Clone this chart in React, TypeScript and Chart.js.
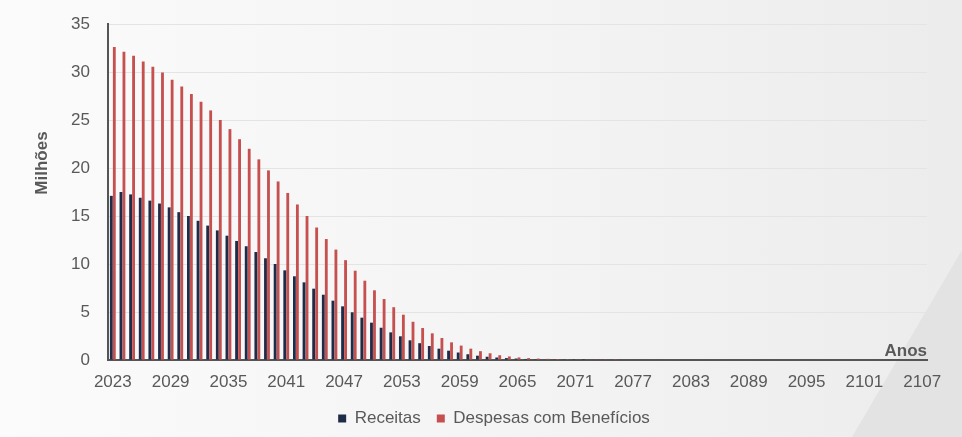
import React, { useEffect, useRef } from "react";
import { Chart, registerables } from "chart.js";

Chart.register(...registerables);

const years: string[] = [
  "2023", "2024", "2025", "2026", "2027", "2028", "2029", "2030", "2031", "2032",
  "2033", "2034", "2035", "2036", "2037", "2038", "2039", "2040", "2041", "2042",
  "2043", "2044", "2045", "2046", "2047", "2048", "2049", "2050", "2051", "2052",
  "2053", "2054", "2055", "2056", "2057", "2058", "2059", "2060", "2061", "2062",
  "2063", "2064", "2065", "2066", "2067", "2068", "2069", "2070", "2071", "2072",
  "2073", "2074", "2075", "2076", "2077", "2078", "2079", "2080", "2081", "2082",
  "2083", "2084", "2085", "2086", "2087", "2088", "2089", "2090", "2091", "2092",
  "2093", "2094", "2095", "2096", "2097", "2098", "2099", "2100", "2101", "2102",
  "2103", "2104", "2105", "2106", "2107",
];

const receitas: number[] = [
  17.1, 17.5, 17.25, 16.9, 16.6, 16.3, 15.9, 15.4, 15.0, 14.5,
  14.0, 13.5, 12.95, 12.4, 11.85, 11.25, 10.6, 10.0, 9.34, 8.72,
  8.09, 7.43, 6.8, 6.18, 5.59, 4.97, 4.41, 3.89, 3.36, 2.88,
  2.47, 2.05, 1.75, 1.46, 1.18, 0.97, 0.78, 0.6, 0.45, 0.34,
  0.26, 0.2, 0.15, 0.11, 0.08, 0.06, 0.04, 0.03, 0.02, 0.01,
  0, 0, 0, 0, 0, 0, 0, 0, 0, 0,
  0, 0, 0, 0, 0, 0, 0, 0, 0, 0,
  0, 0, 0, 0, 0, 0, 0, 0, 0, 0,
  0, 0, 0, 0, 0,
];

const despesas: number[] = [
  32.6, 32.1, 31.7, 31.1, 30.55, 29.95, 29.2, 28.5, 27.7, 26.9,
  26.0, 25.0, 24.05, 23.0, 22.0, 20.9, 19.75, 18.6, 17.4, 16.2,
  15.0, 13.8, 12.6, 11.5, 10.4, 9.3, 8.26, 7.26, 6.35, 5.5,
  4.72, 3.98, 3.33, 2.78, 2.29, 1.84, 1.5, 1.18, 0.92, 0.7,
  0.5, 0.37, 0.27, 0.2, 0.15, 0.12, 0.1, 0.08, 0.06, 0.05,
  0.04, 0.03, 0.02, 0, 0, 0, 0, 0, 0, 0,
  0, 0, 0, 0, 0, 0, 0, 0, 0, 0,
  0, 0, 0, 0, 0, 0, 0, 0, 0, 0,
  0, 0, 0, 0, 0,
];

const seriesNames: string[] = ["Receitas", "Despesas com Benefícios"];
const yTicks: number[] = [0, 5, 10, 15, 20, 25, 30, 35];
const xTitle = "Anos";
const yTitle = "Milhões";
const tickEvery = 6;

const FONT = '"Liberation Sans", Arial, Helvetica, sans-serif';
const TEXT = "#595959";
const NAVY = "#1e2c48";
const RED = "#c5504f";

const titlesPlugin = {
  id: "customTitles",
  afterDraw(chart: any) {
    const { ctx, chartArea } = chart;
    ctx.save();
    ctx.fillStyle = TEXT;
    ctx.font = `bold 17px ${FONT}`;
    ctx.textAlign = "right";
    ctx.textBaseline = "alphabetic";
    ctx.fillText(xTitle, chartArea.right, chartArea.bottom - 4);
    ctx.translate(chartArea.left - 66, chartArea.top + 139);
    ctx.rotate(-Math.PI / 2);
    ctx.textAlign = "center";
    ctx.textBaseline = "middle";
    ctx.fillText(yTitle, 0, 0);
    ctx.restore();
  },
};

const LEGEND_PAD = 16;

export default function App() {
  const ref = useRef<HTMLCanvasElement | null>(null);

  useEffect(() => {
    if (!ref.current) return;
    const chart = new Chart(ref.current, {
      type: "bar",
      data: {
        labels: years,
        datasets: [
          {
            label: seriesNames[0],
            data: receitas,
            backgroundColor: NAVY,
            borderWidth: 0,
            categoryPercentage: 0.62,
            barPercentage: 0.95,
          },
          {
            label: seriesNames[1],
            data: despesas,
            backgroundColor: RED,
            borderWidth: 0,
            categoryPercentage: 0.62,
            barPercentage: 0.95,
          },
        ],
      },
      options: {
        responsive: false,
        animation: false,
        layout: { padding: { left: 61, right: 35, top: 24, bottom: 0 } },
        plugins: {
          tooltip: { enabled: false },
          legend: {
            position: "bottom",
            labels: {
              boxWidth: 8,
              boxHeight: 8,
              padding: LEGEND_PAD,
              color: TEXT,
              font: { size: 17, family: FONT },
            },
          },
        },
        scales: {
          x: {
            grid: { display: false, drawTicks: false },
            border: { display: true, color: "#555555", width: 2 },
            ticks: {
              autoSkip: false,
              maxRotation: 0,
              minRotation: 0,
              padding: 12,
              color: TEXT,
              font: { size: 17, family: FONT },
              callback: (_v: any, i: number) => (i % tickEvery === 0 ? years[i] : ""),
            },
            afterFit: (scale: any) => {
              scale.height = 50 - LEGEND_PAD;
              scale.paddingLeft = 0;
              scale.paddingRight = 0;
            },
          },
          y: {
            min: yTicks[0],
            max: yTicks[yTicks.length - 1],
            grid: { color: "#e4e4e4", lineWidth: 1, drawTicks: false },
            border: { display: true, color: "#555555", width: 2 },
            ticks: {
              stepSize: 5,
              padding: 18,
              color: TEXT,
              font: { size: 17, family: FONT },
            },
            afterFit: (scale: any) => {
              scale.width = 47;
              scale.paddingTop = 0;
              scale.paddingBottom = 0;
            },
          },
        },
      },
      plugins: [titlesPlugin],
    });
    return () => chart.destroy();
  }, []);

  return (
    <div
      style={{
        position: "fixed",
        left: 0,
        top: 0,
        width: 962,
        height: 437,
        overflow: "hidden",
        background: "linear-gradient(90deg, #fbfbfb 0%, #f3f3f3 60%, #ececec 100%)",
      }}
    >
      <div
        style={{
          position: "absolute",
          inset: 0,
          clipPath: "polygon(962px 250px, 962px 437px, 852px 437px)",
          background: "#e3e3e3",
        }}
      />
      <canvas
        ref={ref}
        width={962}
        height={437}
        style={{ position: "absolute", left: 0, top: 0, width: 962, height: 437 }}
      />
    </div>
  );
}
